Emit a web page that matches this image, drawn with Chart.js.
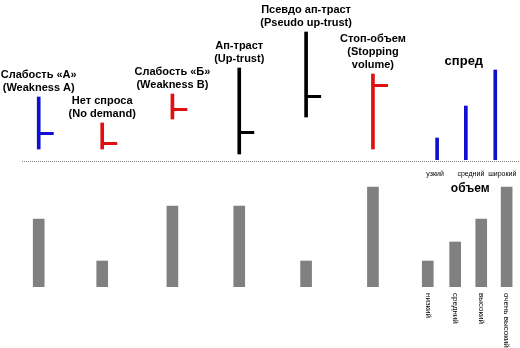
<!DOCTYPE html>
<html>
<head>
<meta charset="utf-8">
<script src="https://cdn.jsdelivr.net/npm/chart.js@4.4.1/dist/chart.umd.min.js"></script>
<style>
body { margin: 0; background: #fff; }
#wrap { position: relative; width: 520px; height: 348px; }
canvas { position: absolute; left: 0; }
#priceChart { top: 0; }
#volumeChart { top: 162px; }
</style>
</head>
<body>
<div id="wrap">
  <canvas id="priceChart" width="520" height="162"></canvas>
  <canvas id="volumeChart" width="520" height="186"></canvas>
</div>
<script>
// Сигналы VSA: подписи, позиция по оси, бар (мин/макс/закрытие), объем
const eventLabels = [
    ['Слабость «А»', '(Weakness A)'],
    ['Нет спроса', '(No demand)'],
    ['Слабость «Б»', '(Weakness B)'],
    ['Ап-траст', '(Up-trust)'],
    ['Псевдо ап-траст', '(Pseudo up-trust)'],
    ['Стоп-объем', '(Stopping', 'volume)']
];
const eventPos = [1, 1.95, 3, 4, 5, 6];
const barLow = [11, 11, 41, 6, 43, 11];
const barHigh = [63, 37, 66, 92, 128, 86];
const barClose = [27, 17, 51, 28, 64, 75];
const eventVolume = [68, 26, 81, 81, 26, 100];

// Легенда спреда
const spreadTitle = 'спред';
const spreadLabels = ['узкий', 'средний', 'широкий'];
const spreadPos = [6.96, 7.39, 7.83];
const spreadValues = [22, 54, 90];

// Легенда объема
const volumeTitle = 'объем';
const volumeLabels = ['низкий', 'средний', 'высокий', 'очень высокий'];
const volumePos = [6.82, 7.23, 7.62, 8.0];
const volumeValues = [26, 45, 68, 100];

const BLUE = '#1010d0';
const RED = '#e01010';
const GRAY = '#808080';
const barColor = [BLUE, RED, RED, '#000', '#000', RED];

const xMin = 0.75, xMax = 8.2;
const font = '"Liberation Sans", Arial, sans-serif';

// засечка закрытия справа от бара + пунктир под панелью цен
const closeTicks = {
    id: 'closeTicks',
    afterDatasetsDraw(chart) {
        const {ctx, chartArea, scales: {x, y}} = chart;
        ctx.save();
        ctx.lineWidth = 3;
        eventPos.forEach((xv, i) => {
            const px = x.getPixelForValue(xv);
            const py = Math.round(y.getPixelForValue(barClose[i])) + 0.5;
            ctx.strokeStyle = barColor[i];
            ctx.beginPath();
            ctx.moveTo(px, py);
            ctx.lineTo(px + 15, py);
            ctx.stroke();
        });
        ctx.lineWidth = 1;
        ctx.strokeStyle = '#888';
        ctx.setLineDash([1, 1]);
        ctx.beginPath();
        ctx.moveTo(chartArea.left, chartArea.bottom + 1.5);
        ctx.lineTo(chartArea.right, chartArea.bottom + 1.5);
        ctx.stroke();
        ctx.restore();
    }
};

// подписи над барами и заголовок "спред"
const eventText = {
    id: 'eventText',
    afterDatasetsDraw(chart) {
        const {ctx, scales: {x, y}} = chart;
        ctx.save();
        ctx.fillStyle = '#000';
        ctx.textAlign = 'center';
        ctx.textBaseline = 'middle';
        ctx.font = 'bold 11px ' + font;
        eventLabels.forEach((lines, i) => {
            const px = x.getPixelForValue(eventPos[i]);
            const top = y.getPixelForValue(barHigh[i]);
            lines.forEach((t, j) => {
                ctx.fillText(t, px, top - 9 - (lines.length - 1 - j) * 13);
            });
        });
        ctx.font = 'bold 13px ' + font;
        ctx.textBaseline = 'alphabetic';
        ctx.fillText(spreadTitle, x.getPixelForValue(spreadPos[1]) - 2, y.getPixelForValue(95));
        ctx.restore();
    }
};

// подписи легенд в нижней панели
const volumeText = {
    id: 'volumeText',
    afterDatasetsDraw(chart) {
        const {ctx, chartArea, scales: {x, y}} = chart;
        ctx.save();
        ctx.fillStyle = '#000';
        ctx.font = '7px ' + font;
        ctx.textAlign = 'center';
        ctx.textBaseline = 'middle';
        const shift = [-2, 5, 7];
        spreadLabels.forEach((t, i) => {
            ctx.fillText(t, x.getPixelForValue(spreadPos[i]) + shift[i], chartArea.top + 12);
        });
        ctx.font = '8px ' + font;
        ctx.textAlign = 'left';
        volumeLabels.forEach((t, i) => {
            ctx.save();
            ctx.translate(x.getPixelForValue(volumePos[i]), chartArea.bottom + 6);
            ctx.rotate(Math.PI / 2);
            ctx.fillText(t, 0, 0);
            ctx.restore();
        });
        ctx.font = 'bold 12px ' + font;
        ctx.textAlign = 'center';
        ctx.textBaseline = 'alphabetic';
        ctx.fillText(volumeTitle, x.getPixelForValue(volumePos[1]) + 15, y.getPixelForValue(95));
        ctx.restore();
    }
};

new Chart(document.getElementById('priceChart'), {
    type: 'bar',
    data: {
        datasets: [{
            data: eventPos.map((xv, i) => ({x: xv, y: [barLow[i], barHigh[i]]})),
            backgroundColor: barColor,
            barThickness: 3,
            grouped: false
        }, {
            data: spreadPos.map((xv, i) => ({x: xv, y: spreadValues[i]})),
            backgroundColor: BLUE,
            barThickness: 3,
            grouped: false
        }]
    },
    options: {
        responsive: false,
        animation: false,
        layout: { padding: { left: 22, bottom: 2 } },
        plugins: { legend: { display: false }, tooltip: { enabled: false } },
        scales: {
            x: { type: 'linear', display: false, min: xMin, max: xMax, offset: false },
            y: { display: false, min: 0, max: 160 }
        }
    },
    plugins: [closeTicks, eventText]
});

new Chart(document.getElementById('volumeChart'), {
    type: 'bar',
    data: {
        datasets: [{
            data: eventPos.map((xv, i) => ({x: xv, y: eventVolume[i]})),
            backgroundColor: GRAY,
            barThickness: 11,
            grouped: false
        }, {
            data: volumePos.map((xv, i) => ({x: xv, y: volumeValues[i]})),
            backgroundColor: GRAY,
            barThickness: 11,
            grouped: false
        }]
    },
    options: {
        responsive: false,
        animation: false,
        layout: { padding: { left: 22, bottom: 61 } },
        plugins: { legend: { display: false }, tooltip: { enabled: false } },
        scales: {
            x: { type: 'linear', display: false, min: xMin, max: xMax, offset: false },
            y: { display: false, min: 0, max: 125 }
        }
    },
    plugins: [volumeText]
});
</script>
</body>
</html>
